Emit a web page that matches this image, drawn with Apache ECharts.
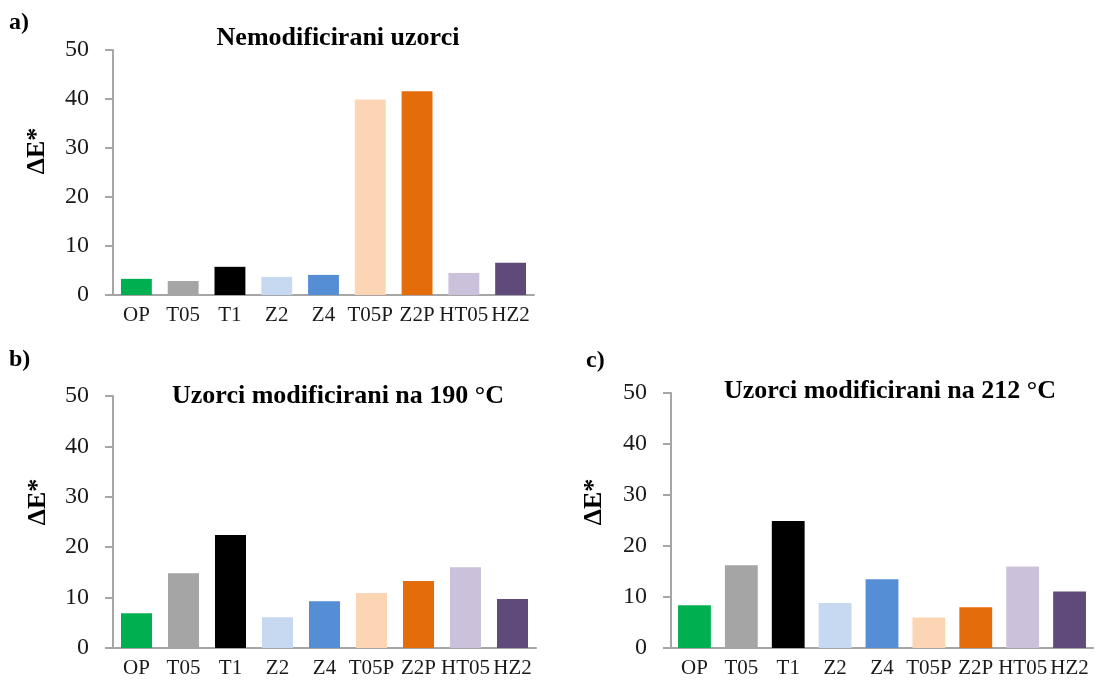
<!DOCTYPE html>
<html><head><meta charset="utf-8">
<script src="https://cdn.jsdelivr.net/npm/echarts@6/dist/echarts.min.js"></script>
<style>html,body{margin:0;padding:0;background:#fff}#c{width:1105px;height:681px}</style>
</head><body><div id="c"></div>
<script>
const categories = ['OP','T05','T1','Z2','Z4','T05P','Z2P','HT05','HZ2'];
const barColors = ['#00B050','#A5A5A5','#000000','#C6D9F1','#558ED5','#FCD5B5','#E46C0A','#CCC1DA','#604A7B'];
const valuesA = [3.3, 2.85, 5.75, 3.7, 4.1, 39.9, 41.6, 4.5, 6.6];
const valuesB = [6.9, 14.85, 22.4, 6.1, 9.3, 10.9, 13.3, 16.0, 9.7];
const valuesC = [8.4, 16.25, 24.9, 8.8, 13.5, 6.0, 8.0, 16.0, 11.1];
const titles = ['Nemodificirani uzorci','Uzorci modificirani na 190 °C','Uzorci modificirani na 212 °C'];
const panelLabels = ['a)','b)','c)'];
const yAxisName = 'ΔE*';
const yTicks = [0,10,20,30,40,50];

const serif = '"Liberation Serif","DejaVu Serif",serif';
const grids = [
  {left:113, top:50, width:421, height:245},
  {left:113, top:396, width:423, height:252},
  {left:671, top:393, width:422, height:255}
];
const titlePos = [[333,20],[333,378],[885,373]];
const labelPos = [[9,11],[9,348],[586,349]];
const namePos = [[37,151],[38,502],[594,502]];
const barW = ['66%','66%','70%'];
const data = [valuesA, valuesB, valuesC];

const option = {
  animation:false,
  backgroundColor:'#fff',
  title: titles.map((t,i)=>({text:t,left:titlePos[i][0],top:titlePos[i][1],textAlign:'center',
    textStyle:{fontFamily:serif,fontWeight:'bold',fontSize:26,color:'#000'}})),
  graphic: panelLabels.map((t,i)=>({type:'text',left:labelPos[i][0],top:labelPos[i][1],
    style:{text:t,font:'bold 24px '+serif,fill:'#000'}})).concat(
    namePos.map(p=>({type:'text',x:p[0],y:p[1],rotation:Math.PI/2,
    style:{text:yAxisName,font:'bold 26px '+serif,fill:'#000',textAlign:'center',textVerticalAlign:'middle'}}))),
  grid: grids,
  xAxis: grids.map((g,i)=>({type:'category',gridIndex:i,data:categories,
    axisLine:{lineStyle:{color:'#a6a6a6',width:2}},axisTick:{show:false},
    axisLabel:{interval:0,fontFamily:serif,fontSize:21,color:'#1a1a1a',margin:10}})),
  yAxis: grids.map((g,i)=>({type:'value',gridIndex:i,min:0,max:50,interval:10,
    axisLine:{show:true,lineStyle:{color:'#a6a6a6',width:2}},
    axisTick:{show:true,length:8,lineStyle:{color:'#a6a6a6',width:2}},
    splitLine:{show:false},
    axisLabel:{fontFamily:serif,fontSize:24,color:'#1a1a1a',margin:24,
      formatter:v=>yTicks.includes(v)?String(v):''}})),
  series: data.map((d,i)=>({type:'bar',xAxisIndex:i,yAxisIndex:i,barWidth:barW[i],
    data:d.map((v,j)=>({value:v,itemStyle:{color:barColors[j]}}))}))
};
echarts.init(document.getElementById('c'),null,{renderer:'canvas'}).setOption(option);
</script></body></html>
